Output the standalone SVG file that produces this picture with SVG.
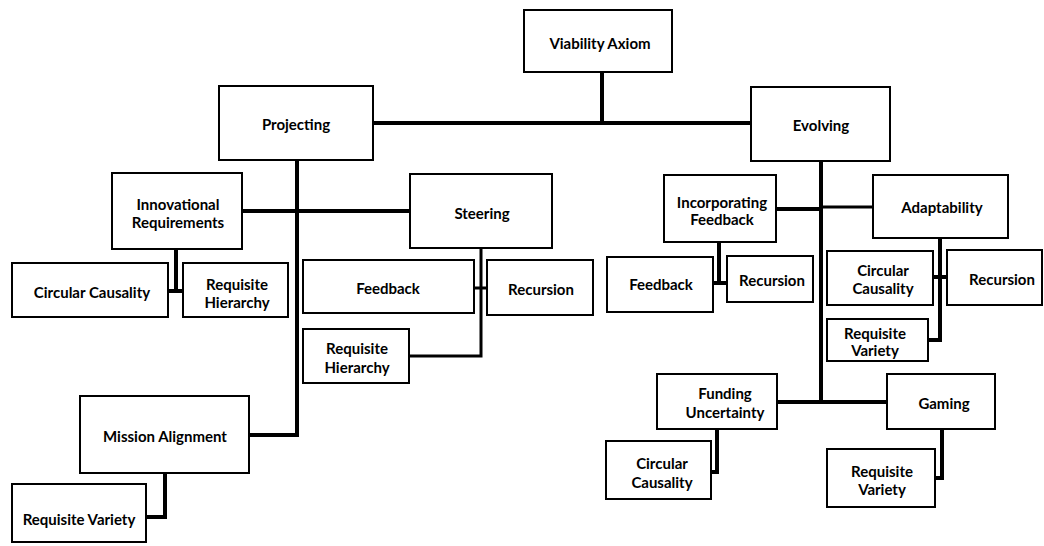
<svg xmlns="http://www.w3.org/2000/svg" width="1044" height="546" viewBox="0 0 1044 546">
<style>
rect{fill:#fff;stroke:#000;stroke-width:2}
text{font-family:Lato,"Liberation Sans",sans-serif;font-weight:bold;font-size:15px;fill:#000;text-anchor:middle;dominant-baseline:central}
.c path{fill:none;stroke:#000;stroke-width:4;stroke-linejoin:miter}
.c path.t{stroke-width:3}
</style>
<rect x="0" y="0" width="1044" height="546" style="stroke:none;fill:#fff"/>
<g class="c" id="connectors">
<path d="M602,72V123M373,123H751"/>
<path d="M297,160V435H249"/>
<path d="M242,211H410"/>
<path d="M176,249V291M168,291H183"/>
<path class="t" d="M481,248V356H409M474,288H487"/>
<path d="M165,473V517H146"/>
<path d="M821,161V402M777,402H887"/>
<path d="M776,209H821"/>
<path class="t" d="M821,207H873"/>
<path d="M719,242V283M713,283H727"/>
<path d="M940,238V340H928M933,277H947"/>
<path d="M717,429V472H711"/>
<path d="M942,429V478H935"/>
</g>
<g id="viability"><rect x="524" y="10" width="148" height="62"/><text x="600" y="43">Viability Axiom</text></g>
<g id="projecting"><rect x="219" y="86" width="154" height="74"/><text x="296" y="124">Projecting</text></g>
<g id="evolving"><rect x="751" y="87" width="139" height="74"/><text x="821" y="125">Evolving</text></g>
<g id="innovational"><rect x="112" y="173" width="130" height="76"/><text x="178" y="204">Innovational</text><text x="178" y="222">Requirements</text></g>
<g id="steering"><rect x="410" y="174" width="142" height="74"/><text x="482" y="213">Steering</text></g>
<g id="circ1"><rect x="12" y="263" width="156" height="54"/><text x="92" y="292">Circular Causality</text></g>
<g id="reqhier1"><rect x="183" y="263" width="105" height="54"/><text x="237" y="284">Requisite</text><text x="237" y="302">Hierarchy</text></g>
<g id="feedback1"><rect x="303" y="260" width="171" height="53"/><text x="388" y="288">Feedback</text></g>
<g id="recursion1"><rect x="487" y="260" width="106" height="55"/><text x="541" y="289">Recursion</text></g>
<g id="reqhier2"><rect x="303" y="329" width="106" height="54"/><text x="357" y="348">Requisite</text><text x="357" y="367">Hierarchy</text></g>
<g id="mission"><rect x="80" y="396" width="169" height="77"/><text x="165" y="436">Mission Alignment</text></g>
<g id="reqvar1"><rect x="12" y="484" width="134" height="58"/><text x="79" y="519">Requisite Variety</text></g>
<g id="incfeedback"><rect x="664" y="175" width="112" height="67"/><text x="722" y="202">Incorporating</text><text x="722" y="219">Feedback</text></g>
<g id="adaptability"><rect x="873" y="175" width="135" height="63"/><text x="942" y="207">Adaptability</text></g>
<g id="feedback2"><rect x="607" y="257" width="106" height="55"/><text x="661" y="284">Feedback</text></g>
<g id="recursion2"><rect x="727" y="256" width="86" height="46"/><text x="772" y="280">Recursion</text></g>
<g id="circ2"><rect x="827" y="251" width="106" height="54"/><text x="883" y="270">Circular</text><text x="883" y="288">Causality</text></g>
<g id="recursion3"><rect x="947" y="250" width="95" height="55"/><text x="1002" y="279">Recursion</text></g>
<g id="reqvar2"><rect x="827" y="319" width="101" height="42"/><text x="875" y="333">Requisite</text><text x="875" y="350">Variety</text></g>
<g id="funding"><rect x="657" y="374" width="120" height="55"/><text x="725" y="393">Funding</text><text x="725" y="412">Uncertainty</text></g>
<g id="gaming"><rect x="887" y="374" width="108" height="55"/><text x="944" y="403">Gaming</text></g>
<g id="circ3"><rect x="606" y="441" width="105" height="58"/><text x="662" y="463">Circular</text><text x="662" y="482">Causality</text></g>
<g id="reqvar3"><rect x="827" y="449" width="108" height="58"/><text x="882" y="471">Requisite</text><text x="882" y="489">Variety</text></g>
</svg>
